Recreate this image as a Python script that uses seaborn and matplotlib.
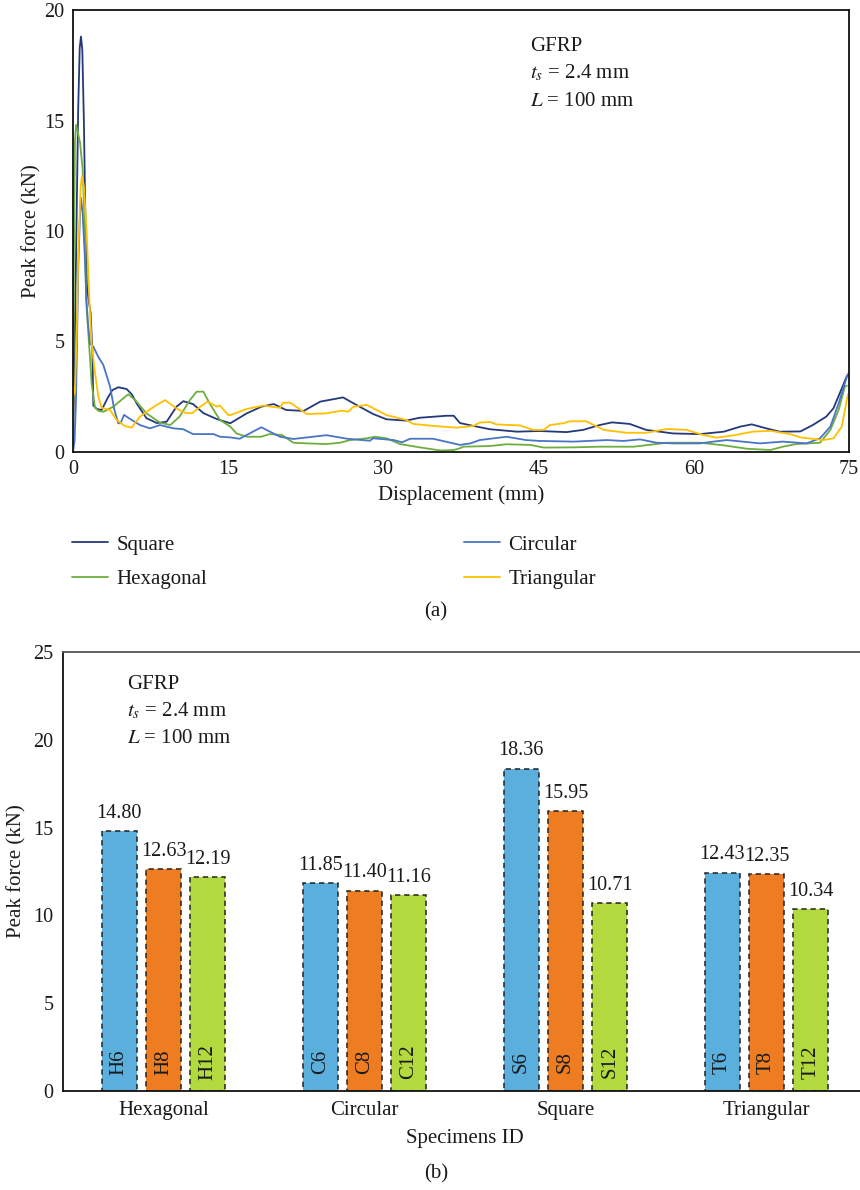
import matplotlib
matplotlib.use("Agg")
import matplotlib.pyplot as plt
import numpy as np
import pandas as pd
import seaborn as sns

# ---------------- data: panel (a) force-displacement curves ----------------
square = [(0, 0), (0.1, 3.0), (0.3, 9.0), (0.5, 15.5), (0.65, 18.3), (0.77, 18.8), (0.9, 18.2),
          (1.05, 15.0), (1.2, 10.5), (1.35, 7.5), (1.5, 6.9), (1.7, 6.3), (1.87, 4.6), (1.97, 2.1),
          (2.3, 1.95), (2.77, 1.9), (3.3, 2.4), (3.8, 2.8), (4.38, 2.93), (5.18, 2.85), (5.7, 2.6),
          (6.15, 2.2), (7.1, 1.53), (8.1, 1.31), (9.05, 1.37), (10.0, 2.05), (10.66, 2.3), (11.6, 2.17),
          (12.6, 1.76), (13.9, 1.49), (15.2, 1.3), (16.8, 1.75), (18.2, 2.05), (19.4, 2.17), (20.6, 1.9),
          (22.3, 1.86), (23.9, 2.28), (26.1, 2.47), (27.7, 2.05), (29.0, 1.72), (30.3, 1.48), (32.2, 1.42),
          (33.5, 1.55), (36.1, 1.64), (36.8, 1.64), (37.4, 1.31), (38.7, 1.18), (40.3, 1.03), (42.9, 0.92),
          (45.1, 0.95), (47.7, 0.9), (49.3, 1.0), (50.9, 1.22), (52.1, 1.34), (53.8, 1.27), (55.4, 1.0),
          (58.0, 0.84), (60.6, 0.81), (62.9, 0.92), (64.5, 1.15), (65.6, 1.25), (67.0, 1.07), (68.3, 0.92),
          (70.3, 0.93), (71.5, 1.22), (72.8, 1.6), (73.5, 1.98), (74.1, 2.65), (74.8, 3.44), (75.0, 3.55)]

circular = [(0, 0), (0.15, 0.5), (0.29, 2.35), (0.51, 8.4), (0.68, 10.8), (0.77, 11.5), (0.93, 10.8),
            (1.16, 8.7), (1.3, 6.9), (1.45, 5.8), (1.64, 4.9), (1.96, 4.77), (2.45, 4.3), (2.93, 3.94),
            (3.58, 2.96), (4.0, 1.9), (4.38, 1.3), (4.6, 1.3), (4.93, 1.68), (5.5, 1.5), (6.47, 1.22),
            (7.44, 1.07), (8.4, 1.22), (9.7, 1.07), (10.66, 1.03), (11.6, 0.81), (13.6, 0.81), (14.2, 0.69),
            (15.2, 0.66), (16.1, 0.6), (18.2, 1.12), (20.0, 0.69), (21.3, 0.59), (24.5, 0.76), (26.5, 0.6),
            (28.7, 0.51), (29.0, 0.62), (31.0, 0.54), (31.8, 0.44), (32.6, 0.6), (34.8, 0.6), (37.4, 0.32),
            (38.4, 0.39), (39.3, 0.54), (41.9, 0.69), (43.8, 0.54), (45.1, 0.5), (48.4, 0.47), (51.6, 0.54),
            (53.2, 0.5), (54.8, 0.57), (56.4, 0.42), (58.0, 0.39), (60.6, 0.39), (61.9, 0.47), (63.2, 0.54),
            (66.4, 0.39), (68.6, 0.47), (70.9, 0.39), (72.2, 0.62), (73.2, 1.15), (74.0, 2.2), (74.8, 3.41),
            (75.0, 3.6)]

hexagonal = [(0, 0), (0.03, 3.0), (0.08, 8.5), (0.13, 11.0), (0.19, 14.1), (0.3, 14.8), (0.45, 14.5),
             (0.68, 14.0), (0.93, 12.8), (1.16, 9.9), (1.26, 6.9), (1.48, 5.4), (1.8, 3.1), (2.13, 2.0),
             (2.5, 1.85), (2.93, 1.82), (3.9, 2.05), (4.86, 2.43), (5.35, 2.61), (6.0, 2.35), (7.1, 1.75),
             (8.4, 1.33), (9.4, 1.22), (10.3, 1.6), (11.3, 2.35), (11.95, 2.73), (12.6, 2.73), (13.2, 2.2),
             (14.2, 1.45), (15.2, 1.15), (15.8, 0.84), (16.8, 0.69), (18.2, 0.69), (19.0, 0.81), (20.2, 0.77),
             (21.3, 0.42), (22.6, 0.39), (24.5, 0.36), (25.8, 0.42), (26.8, 0.54), (28.4, 0.62), (29.2, 0.69),
             (30.3, 0.62), (31.6, 0.36), (33.5, 0.21), (35.5, 0.07), (36.8, 0.09), (37.4, 0.17), (37.7, 0.24),
             (40.3, 0.27), (41.9, 0.35), (44.2, 0.32), (45.5, 0.2), (48.4, 0.21), (50.9, 0.24), (54.2, 0.24),
             (57.4, 0.42), (60.6, 0.42), (62.9, 0.3), (65.1, 0.15), (67.4, 0.09), (68.6, 0.24), (69.9, 0.36),
             (72.2, 0.42), (73.2, 1.0), (74.0, 1.9), (74.6, 2.96), (74.8, 3.0)]

triangular = [(0, 0), (0.03, 2.9), (0.1, 2.6), (0.19, 2.8), (0.36, 5.4), (0.51, 9.0), (0.74, 12.0),
              (0.87, 12.5), (1.06, 12.0), (1.32, 9.9), (1.58, 6.9), (1.8, 4.9), (2.13, 3.57), (2.45, 2.5),
              (2.77, 2.0), (3.58, 1.9), (4.22, 1.45), (5.0, 1.18), (5.67, 1.1), (6.47, 1.6), (7.44, 1.93),
              (8.1, 2.13), (8.9, 2.35), (10.0, 1.97), (10.8, 1.78), (11.5, 1.75), (12.3, 2.05), (13.0, 2.28),
              (13.9, 2.05), (14.2, 2.1), (15.0, 1.67), (15.2, 1.67), (16.8, 1.95), (18.4, 2.1), (20.0, 2.0),
              (20.3, 2.23), (21.0, 2.23), (22.6, 1.72), (24.5, 1.75), (26.0, 1.87), (26.6, 1.82), (27.1, 2.05),
              (28.4, 2.13), (30.3, 1.67), (32.2, 1.45), (32.9, 1.27), (34.8, 1.18), (37.1, 1.1), (38.7, 1.18),
              (39.3, 1.33), (40.3, 1.36), (40.9, 1.25), (43.2, 1.2), (44.5, 1.0), (45.5, 1.0), (46.1, 1.22),
              (47.4, 1.3), (48.0, 1.39), (49.6, 1.39), (51.3, 1.0), (53.5, 0.87), (55.4, 0.87), (57.4, 1.04),
              (59.3, 1.0), (60.9, 0.77), (62.2, 0.65), (63.8, 0.75), (65.7, 0.92), (67.4, 0.96), (69.3, 0.81),
              (70.3, 0.66), (72.5, 0.54), (73.5, 0.62), (74.3, 1.15), (74.9, 2.62)]

line_names = ["Square", "Hexagonal", "Circular", "Triangular"]
line_colors = {"Square": "#24397A", "Circular": "#4A74C6",
               "Hexagonal": "#6DAE3F", "Triangular": "#FFC000"}
x_ticks_a = [0, 15, 30, 45, 60, 75]
y_ticks_a = [0, 5, 10, 15, 20]

# ---------------- data: panel (b) peak forces ----------------
shapes = ["Hexagonal", "Circular", "Square", "Triangular"]
sizes = ["6", "8", "12"]
prefixes = ["H", "C", "S", "T"]
hex_peak = [14.80, 12.63, 12.19]
circ_peak = [11.85, 11.40, 11.16]
square_peak = [18.36, 15.95, 10.71]
tri_peak = [12.43, 12.35, 10.34]
bar_colors = ["#5AAFDC", "#EE7D22", "#B2D93E"]
y_ticks_b = [0, 5, 10, 15, 20, 25]

# ---------------- style ----------------
sns.set_theme(style="white")
plt.rcParams["font.family"] = ["Liberation Serif", "DejaVu Serif"]
plt.rcParams["mathtext.fontset"] = "stix"
TXT = "#1a1a1a"
FS = 14.5
FL = 15

W, H = 860, 1190
fig = plt.figure(figsize=(W / 100, H / 100), dpi=100)

# ======== panel (a) ========
ax1 = fig.add_axes([73 / W, 1 - 452 / H, 776 / W, 442 / H])
frames = []
for name, pts in zip(["Square", "Hexagonal", "Circular", "Triangular"],
                     [square, hexagonal, circular, triangular]):
    d = pd.DataFrame(pts, columns=["disp", "force"])
    d["shape"] = name
    frames.append(d)
df_lines = pd.concat(frames, ignore_index=True)

sns.lineplot(data=df_lines, x="disp", y="force", hue="shape", hue_order=line_names,
             palette=line_colors, sort=False, estimator=None, linewidth=1.3, ax=ax1)
ax1.set_xlim(0, 75)
ax1.set_ylim(0, 20)
ax1.set_xticks(x_ticks_a)
ax1.set_yticks(y_ticks_a)
ax1.tick_params(axis="both", length=0, labelsize=FS, colors=TXT, pad=6)
for s in ax1.spines.values():
    s.set_visible(True)
    s.set_color("#111111")
    s.set_linewidth(1.3)
ax1.set_xlabel("Displacement (mm)", fontsize=FL, color=TXT, labelpad=4)
ax1.set_ylabel("Peak force (kN)", fontsize=FL, color=TXT, labelpad=2)
ax1.text(0.589, 0.918, "GFRP", transform=ax1.transAxes, fontsize=FL, color=TXT, va="center")
ax1.text(0.589, 0.857, "$t_s$ = 2.4 mm", transform=ax1.transAxes, fontsize=FL, color=TXT, va="center")
ax1.text(0.589, 0.794, "$L$ = 100 mm", transform=ax1.transAxes, fontsize=FL, color=TXT, va="center")

sns.move_legend(ax1, loc="upper left", bbox_to_anchor=(72 / W, 1 - 535 / H),
                bbox_transform=fig.transFigure, ncol=2, frameon=False, title=None,
                fontsize=FL, handlelength=1.75, handletextpad=0.4, labelspacing=0.72,
                columnspacing=12.3, borderaxespad=0, borderpad=0)
leg = ax1.get_legend()
for t in leg.get_texts():
    t.set_color(TXT)
for h in leg.get_lines():
    h.set_linewidth(1.3)

fig.text(436 / W, 1 - 612 / H, "(a)", ha="center", va="center", fontsize=FL, color=TXT)

# ======== panel (b) ========
ax2 = fig.add_axes([63 / W, 1 - 1091 / H, 804 / W, 439 / H])
rows = []
for shp, pre, vals in zip(shapes, prefixes, [hex_peak, circ_peak, square_peak, tri_peak]):
    for sz, v in zip(sizes, vals):
        rows.append({"shape": shp, "size": sz, "force": v, "id": pre + sz})
df_bars = pd.DataFrame(rows)

sns.barplot(data=df_bars, x="shape", y="force", hue="size", order=shapes, hue_order=sizes,
            palette=bar_colors, saturation=1, width=0.66, gap=0.2, edgecolor="#222222",
            linewidth=1.1, linestyle=(0, (3.5, 2.5)), legend=False, ax=ax2)

for ci, cont in enumerate(ax2.containers):
    ax2.bar_label(cont, fmt="%.2f", padding=6, fontsize=14.5, color=TXT)
    for si, patch in enumerate(cont.patches):
        lab = df_bars[(df_bars["shape"] == shapes[si]) & (df_bars["size"] == sizes[ci])]["id"].iloc[0]
        ax2.text(patch.get_x() + patch.get_width() / 2, 1.65, lab, rotation=90,
                 ha="center", va="center", fontsize=15, color=TXT)

ax2.set_xlim(-0.5, 3.5)
ax2.set_ylim(0, 25)
ax2.set_yticks(y_ticks_b)
ax2.set_xticks(range(len(shapes)))
ax2.set_xticklabels(shapes)
ax2.tick_params(axis="both", length=0, labelsize=FS, colors=TXT, pad=7)
ax2.tick_params(axis="x", labelsize=FL)
ax2.spines["right"].set_visible(False)
ax2.spines["top"].set_color("#555555")
ax2.spines["left"].set_color("#111111")
ax2.spines["bottom"].set_color("#111111")
for s in ax2.spines.values():
    s.set_linewidth(1.3)
ax2.set_xlabel("Specimens ID", fontsize=FL, color=TXT, labelpad=7)
ax2.set_ylabel("Peak force (kN)", fontsize=FL, color=TXT, labelpad=5)
ax2.text(0.08, 0.925, "GFRP", transform=ax2.transAxes, fontsize=FL, color=TXT, va="center")
ax2.text(0.08, 0.866, "$t_s$ = 2.4 mm", transform=ax2.transAxes, fontsize=FL, color=TXT, va="center")
ax2.text(0.08, 0.803, "$L$ = 100 mm", transform=ax2.transAxes, fontsize=FL, color=TXT, va="center")

fig.text(436 / W, 1 - 1174 / H, "(b)", ha="center", va="center", fontsize=FL, color=TXT)

fig.savefig("out.png", dpi=100)
